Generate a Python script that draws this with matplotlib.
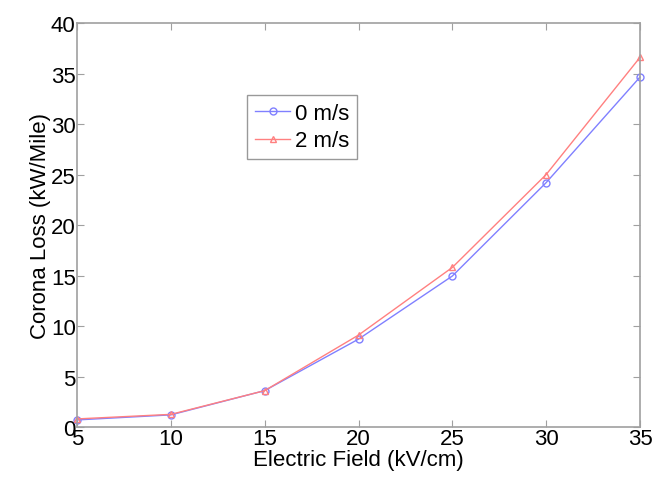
import matplotlib
matplotlib.use("Agg")
import matplotlib.pyplot as plt

plt.rcParams["font.family"] = ["Liberation Sans", "DejaVu Sans"]

field = [5, 10, 15, 20, 25, 30, 35]
loss_0ms = [0.7, 1.2, 3.6, 8.7, 14.95, 24.2, 34.65]
loss_2ms = [0.8, 1.25, 3.6, 9.1, 15.8, 25.0, 36.6]

AXIS_GRAY = "#a0a0a0"

fig = plt.figure(figsize=(6.56, 4.81), dpi=100)
ax = fig.add_axes([0.1174, 0.1102, 0.8582, 0.8398])

ax.plot(field, loss_0ms, color="#8080ff", marker="o", markersize=5,
        markerfacecolor="none", linewidth=1.0, label="0 m/s", clip_on=False)
ax.plot(field, loss_2ms, color="#ff8080", marker="^", markersize=5,
        markerfacecolor="none", linewidth=1.0, label="2 m/s", clip_on=False)

ax.set_xlim(5, 35)
ax.set_ylim(0, 40)
ax.set_xticks(range(5, 36, 5))
ax.set_yticks(range(0, 41, 5))

for side in ax.spines.values():
    side.set_color(AXIS_GRAY)
    side.set_linewidth(1.2)
ax.tick_params(direction="in", length=5, color=AXIS_GRAY, labelsize=16,
               top=True, right=True, pad=1)

ax.set_xlabel("Electric Field (kV/cm)", fontsize=16, labelpad=0)
ax.set_ylabel("Corona Loss (kW/Mile)", fontsize=16, labelpad=0)

leg = ax.legend(loc="upper left", bbox_to_anchor=(0.302, 0.822), fontsize=16,
                frameon=True, fancybox=False, handlelength=1.6,
                borderpad=0.35, labelspacing=0.3, handletextpad=0.2,
                borderaxespad=0)
leg.get_frame().set_edgecolor("#808080")
leg.get_frame().set_linewidth(1.0)

fig.savefig("out.png", dpi=100)
